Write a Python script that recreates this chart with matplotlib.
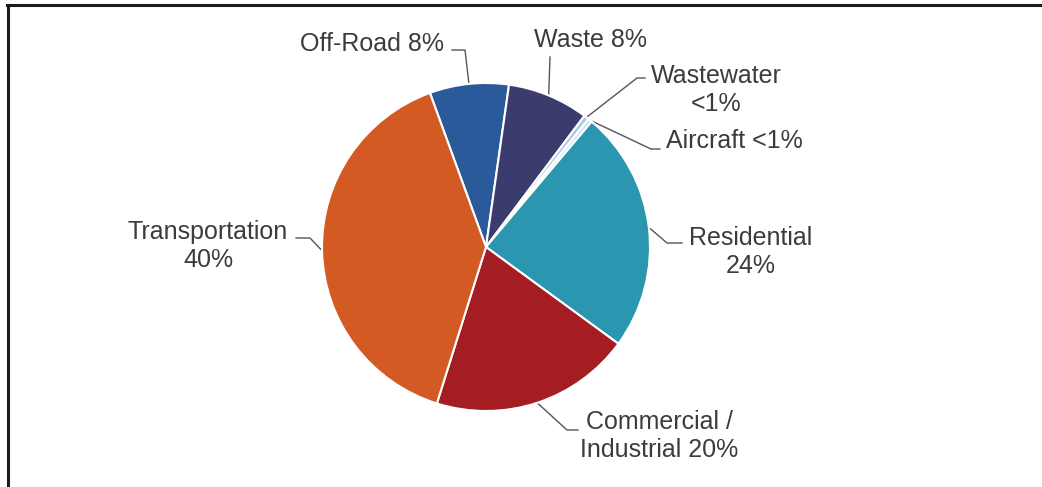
import numpy as np
import matplotlib
matplotlib.use("Agg")
import matplotlib.pyplot as plt
from matplotlib.lines import Line2D

# emission sources, clockwise from the top of the pie
sources = ["Off-Road", "Waste", "Wastewater", "Aircraft",
           "Residential", "Commercial / Industrial", "Transportation"]
shares = [7.8, 8.0, 0.5, 0.4, 23.9, 19.8, 39.6]
labels = ["Off-Road 8%", "Waste 8%", "Wastewater\n<1%", "Aircraft <1%",
          "Residential\n24%", "Commercial /\nIndustrial 20%", "Transportation\n40%"]
colors = ["#2b5a9b", "#3b3b6e", "#a9c9e8", "#cfe5f1",
          "#2a96b0", "#a31d22", "#d45a24"]

W, H = 1042, 487
plt.rcParams["font.family"] = ["Liberation Sans", "DejaVu Sans"]

fig = plt.figure(figsize=(W / 100, H / 100), dpi=100)
ax = fig.add_axes([0, 0, 1, 1])

cx, cy, r = 486, H - 247, 164
wedges, _ = ax.pie(shares, colors=colors, startangle=110, counterclock=False,
                   center=(cx, cy), radius=r, frame=True,
                   wedgeprops=dict(edgecolor="white", linewidth=1.5))
ax.set_xlim(0, W)
ax.set_ylim(0, H)
ax.axis("off")

# label centres and leader line bends (pixel coords, y from top)
text_pos = [(372, 44), (590, 40), (716, 90), (734, 141),
            (751, 252), (659, 436), (208, 246)]
leaders = [[(452, 50), (465, 50)],
           [(550, 57)],
           [(645, 78), (637, 78)],
           [(660, 149), (651, 149)],
           [(682, 243), (667, 243)],
           [(578, 430), (567, 430)],
           [(296, 238), (310, 238)]]

for w, lab, (tx, ty), pts in zip(wedges, labels, text_pos, leaders):
    ax.text(tx, H - ty, lab, ha="center", va="center", fontsize=18,
            color="#3c3c3c", multialignment="center", linespacing=1.25)
    mid = np.deg2rad((w.theta1 + w.theta2) / 2)
    ex, ey = cx + r * np.cos(mid), cy + r * np.sin(mid)
    xs = [p[0] for p in pts] + [ex]
    ys = [H - p[1] for p in pts] + [ey]
    ax.plot(xs, ys, color="#555555", lw=1.0, zorder=0.5)

# frame on the left and top edges
fig.add_artist(Line2D([8 / W, 8 / W], [0, 1 - 5 / H], transform=fig.transFigure,
                      color="#1c1c1c", lw=2.2))
fig.add_artist(Line2D([7 / W, 1], [1 - 5 / H, 1 - 5 / H], transform=fig.transFigure,
                      color="#1c1c1c", lw=2.2))

fig.savefig("out.png", dpi=100)
